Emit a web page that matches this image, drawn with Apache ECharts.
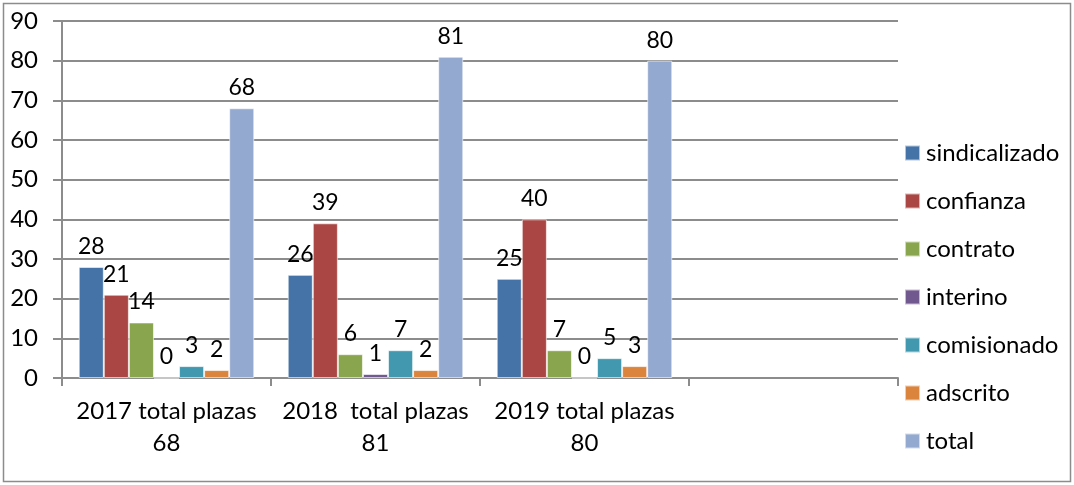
<!DOCTYPE html>
<html>
<head>
<meta charset="utf-8">
<script src="https://cdn.jsdelivr.net/npm/echarts@6/dist/echarts.min.js"></script>
<style>
  html, body { margin: 0; padding: 0; background: #fff; }
  #chart { width: 1074px; height: 485px; }
</style>
</head>
<body>
<div id="chart"></div>
<script>
// categorías del eje x (la cuarta va vacía, como en el original)
const categories = ['2017 total plazas\n68', '2018  total plazas\n81', '2019 total plazas\n80', '']

const seriesNames = ['sindicalizado', 'confianza', 'contrato', 'interino', 'comisionado', 'adscrito', 'total']
const sindicalizado = [28, 26, 25, null]
const confianza = [21, 39, 40, null]
const contrato = [14, 6, 7, null]
const interino = [0, 1, 0, null]
const comisionado = [3, 7, 5, null]
const adscrito = [2, 2, 3, null]
const total = [68, 81, 80, null]

const yTicks = { min: 0, max: 90, interval: 10 }

const colors = ['#4572A7', '#AA4643', '#89A54E', '#71588F', '#4198AF', '#DB843D', '#93A9CF']
const font = 'Lato, "Open Sans", sans-serif'

const allData = [sindicalizado, confianza, contrato, interino, comisionado, adscrito, total]

const chart = echarts.init(document.getElementById('chart'))

chart.setOption({
  animation: false,
  color: colors,
  textStyle: { fontFamily: font },
  graphic: [
    {
      type: 'rect',
      shape: { x: 3.5, y: 3.5, width: 1067, height: 478 },
      style: { fill: 'none', stroke: '#8c8c8c', lineWidth: 1.5 },
      silent: true,
    },
  ],
  grid: { left: 62, right: 176, top: 21, bottom: 107 },
  legend: {
    orient: 'vertical',
    left: 899,
    top: 136,
    icon: 'rect',
    itemWidth: 15,
    itemHeight: 15,
    itemGap: 24,
    textStyle: { fontSize: 24, color: '#000', fontFamily: font, padding: [0, 0, 0, 1] },
    data: seriesNames,
  },
  xAxis: {
    type: 'category',
    data: categories,
    axisLine: { lineStyle: { color: '#8c8c8c', width: 2 } },
    axisTick: { show: true, length: 8, lineStyle: { color: '#8c8c8c', width: 2 } },
    axisLabel: { fontSize: 24, color: '#000', lineHeight: 32, margin: 17, interval: 0 },
  },
  yAxis: {
    type: 'value',
    min: yTicks.min,
    max: yTicks.max,
    interval: yTicks.interval,
    axisLine: { show: true, lineStyle: { color: '#8c8c8c', width: 2 } },
    axisTick: { show: true, length: 9, lineStyle: { color: '#8c8c8c', width: 2 } },
    axisLabel: { fontSize: 24, color: '#000', margin: 24 },
    splitLine: { lineStyle: { color: '#8c8c8c', width: 2 } },
  },
  series: seriesNames.map((name, i) => ({
    name,
    type: 'bar',
    data: allData[i],
    barGap: '0%',
    barCategoryGap: '16%',
    label: {
      show: true,
      position: 'top',
      fontSize: 23,
      color: '#000',
      distance: 9,
    },
    itemStyle: { borderColor: 'rgba(255,255,255,0.6)', borderWidth: 1 },
  })),
})
</script>
</body>
</html>
